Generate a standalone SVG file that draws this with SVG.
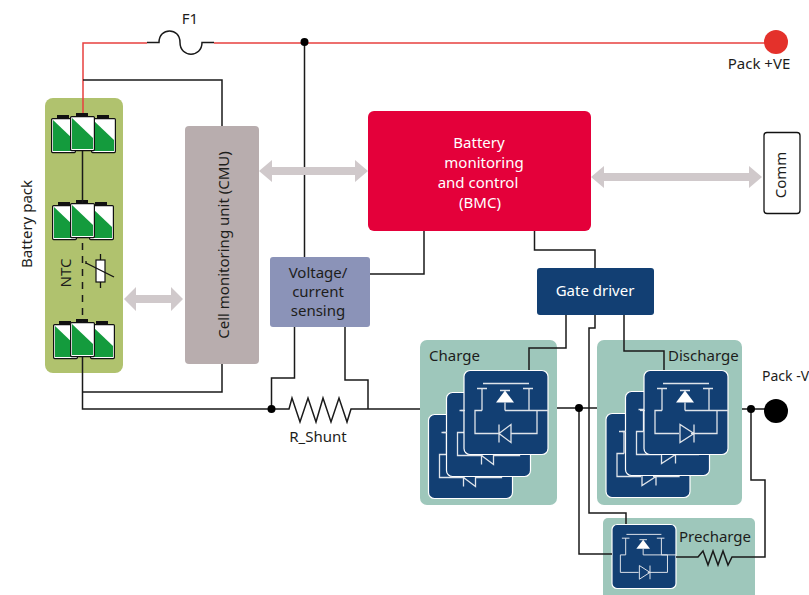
<svg xmlns="http://www.w3.org/2000/svg" xmlns:xlink="http://www.w3.org/1999/xlink" width="809" height="595" viewBox="0 0 809 595">
<style>
text{font-family:"Noto Sans","Open Sans","Liberation Sans",sans-serif;font-size:15px;fill:#1d1d1b}
.m{text-anchor:middle}
.w{fill:#fff}
.wire{fill:none;stroke:#1a1a1a;stroke-width:1.5}
.red{fill:none;stroke:#e8403f;stroke-width:1.5}
.panel{fill:#9ec7bb}
.card{fill:#123f73;stroke:#fff;stroke-width:1.2}
.sym{fill:none;stroke:#dfe4ea;stroke-width:1.3}
.dot{fill:#000}
.arrow{fill:#d0c9cb}
</style>
<defs>
<g id="cell">
<rect x="6" y="-3" width="12" height="3.5" fill="#111"/>
<rect x="0.6" y="0.6" width="23.8" height="34" rx="1" fill="#fff" stroke="#111" stroke-width="1.2"/>
<path d="M2 2 L23 22 V33 H2Z" fill="#149b3d"/>
</g>
<g id="fetbase">
<path class="sym" d="M19 13H65M13 18H23M18 18V40M59 18H69M65 18V40M41 40V32M18 40H11V63H35M47 63H73V40H65M41 40H84.500M36 20H46"/>
<path d="M41 20L32 32H50Z" fill="#fff"/>
</g>
<g id="fetL"><use xlink:href="#fetbase"/><path class="sym" d="M35 54V72M47 54V72L35 63Z"/></g>
<g id="fetR"><use xlink:href="#fetbase"/><path class="sym" d="M36 54V72L50 63ZM50 54V72"/></g>
</defs>

<g id="battery-pack">
<rect x="45" y="98" width="78" height="275" rx="8" fill="#b0c26e"/>
<text class="m" transform="translate(32,224) rotate(-90)">Battery pack</text>
<text class="m" transform="translate(71,273) rotate(-90)">NTC</text>
<use xlink:href="#cell" transform="translate(51,118)"/><use xlink:href="#cell" transform="translate(91,118)"/><use xlink:href="#cell" transform="translate(70,116)"/>
<use xlink:href="#cell" transform="translate(52,205)"/><use xlink:href="#cell" transform="translate(89,205)"/><use xlink:href="#cell" transform="translate(70,203)"/>
<use xlink:href="#cell" transform="translate(53,324)"/><use xlink:href="#cell" transform="translate(90,324)"/><use xlink:href="#cell" transform="translate(70,322)"/>
<path fill="none" stroke="#111" stroke-width="1.3" d="M100.500 254V288M86 261V264"/>
<rect x="96" y="260" width="9" height="22" fill="#fff" stroke="#111" stroke-width="1.2"/>
<path fill="none" stroke="#111" stroke-width="1.3" d="M86 263L114 277"/>
</g>

<g id="cmu"><rect x="185" y="126" width="74" height="238" rx="4" fill="#b8adae"/>
<text class="m" transform="translate(229,245) rotate(-90)">Cell monitoring unit (CMU)</text></g>
<g id="bmc"><rect x="368" y="111" width="223" height="120" rx="6" fill="#e4003a"/>
<text class="m w" x="479" y="148">Battery</text><text class="m w" x="484" y="168">monitoring</text><text class="m w" x="478" y="188">and control</text><text class="m w" x="480" y="208">(BMC)</text></g>
<g id="comm"><rect x="764" y="132.500" width="36" height="81" rx="3" fill="#fff" stroke="#111" stroke-width="1.3"/>
<text class="m" transform="translate(786,175) rotate(-90)">Comm</text></g>
<g id="sensing"><rect x="270" y="257" width="100" height="70" rx="3" fill="#8b93b8"/>
<text class="m" x="318" y="278">Voltage/</text><text class="m" x="318" y="297">current</text><text class="m" x="318" y="316">sensing</text></g>
<g id="gate-driver"><rect x="537" y="268" width="117" height="47" rx="3" fill="#123f73"/>
<text class="m w" x="595" y="296">Gate driver</text></g>

<g id="charge">
<rect class="panel" x="420" y="340" width="137" height="165" rx="7"/>
<text x="429" y="361">Charge</text>
<rect class="card" x="428.500" y="414.500" width="84" height="84" rx="6"/><use xlink:href="#fetL" transform="translate(428.500,414.500)"/>
<rect class="card" x="446.500" y="392.500" width="84" height="84" rx="6"/><use xlink:href="#fetL" transform="translate(446.500,392.500)"/>
<path class="sym" d="M443 432.500H447"/>
<rect class="card" x="464" y="370.500" width="84" height="84" rx="6"/><use xlink:href="#fetL" transform="translate(464,370.500)"/>
<path class="sym" d="M461 410.500H465"/>
</g>
<g id="discharge">
<rect class="panel" x="597" y="340" width="145" height="165" rx="7"/>
<text x="668" y="361">Discharge</text>
<rect class="card" x="606" y="413.500" width="84" height="84" rx="6"/><use xlink:href="#fetR" transform="translate(606,413.500)"/>
<rect class="card" x="625.500" y="391.500" width="84" height="84" rx="6"/><use xlink:href="#fetR" transform="translate(625.500,391.500)"/>
<path class="sym" d="M622 431.500H626"/>
<rect class="card" x="644" y="370.500" width="84" height="84" rx="6"/><use xlink:href="#fetR" transform="translate(644,370.500)"/>
<path class="sym" d="M640 410.500H645"/>
</g>
<g id="precharge">
<rect class="panel" x="603" y="518" width="152" height="90" rx="5"/>
<text x="679" y="542">Precharge</text>
<rect class="card" x="612" y="524.500" width="64" height="64" rx="5"/><use xlink:href="#fetR" transform="translate(612,524.500) scale(.76)"/>
</g>

<g id="connectors">
<path class="red" d="M83 113V43H147M214 43H776"/>
<path class="wire" d="M147 42.500H159C159 27 180 27 180 42.500C180 58 202 58 202 42.500H214"/>
<path class="wire" d="M83 80H222V126M304.500 43V257"/>
<path class="wire" d="M82.500 151V203"/>
<path class="wire" stroke-dasharray="7 6" d="M82.500 243V322"/>
<path class="wire" d="M82.500 357V409H289L292 398L300 422L308 398L316 422L323 398L331 422L339 398L347 422L351 409H420M83 392H222V364"/>
<path class="wire" d="M271.500 409V378H294.500V327M345 327V380H368V409"/>
<path class="wire" d="M370 274H424V231M534.500 231V250H595V268"/>
<path class="wire" d="M566 315V348H529V370M624 315V351H664V370M595 315V328H589V513H626V524"/>
<path class="wire" d="M557 408H597M579 408V554H612"/>
<path class="wire" d="M742 409H765M751 409V480H765V557H732L728 565L723 551L718 565L713 551L708 565L703 551L698 557H676"/>
<circle class="dot" cx="304.500" cy="42" r="4"/>
<circle class="dot" cx="271.500" cy="409" r="4"/>
<circle class="dot" cx="579" cy="408" r="4"/>
<circle class="dot" cx="751" cy="409" r="4"/>
<path class="arrow" d="M124 299L136 287V295H171V287L183 299L171 311V303H136V311Z"/>
<path class="arrow" d="M259 171L272 160V167H355V160L368 171L355 182V175H272V182Z"/>
<path class="arrow" d="M591 177L604 166V173H749V166L762 177L749 188V181H604V188Z"/>
</g>

<g id="pack-pos"><circle cx="776" cy="42" r="12" fill="#e4312b"/><text class="m" x="759" y="69">Pack +VE</text></g>
<g id="pack-neg"><circle cx="776" cy="411" r="12" fill="#000"/><text x="762" y="381" style="font-size:14px">Pack -V</text></g>
<g id="labels"><text class="m" x="190" y="24">F1</text><text class="m" x="318" y="442">R_Shunt</text></g>
</svg>
